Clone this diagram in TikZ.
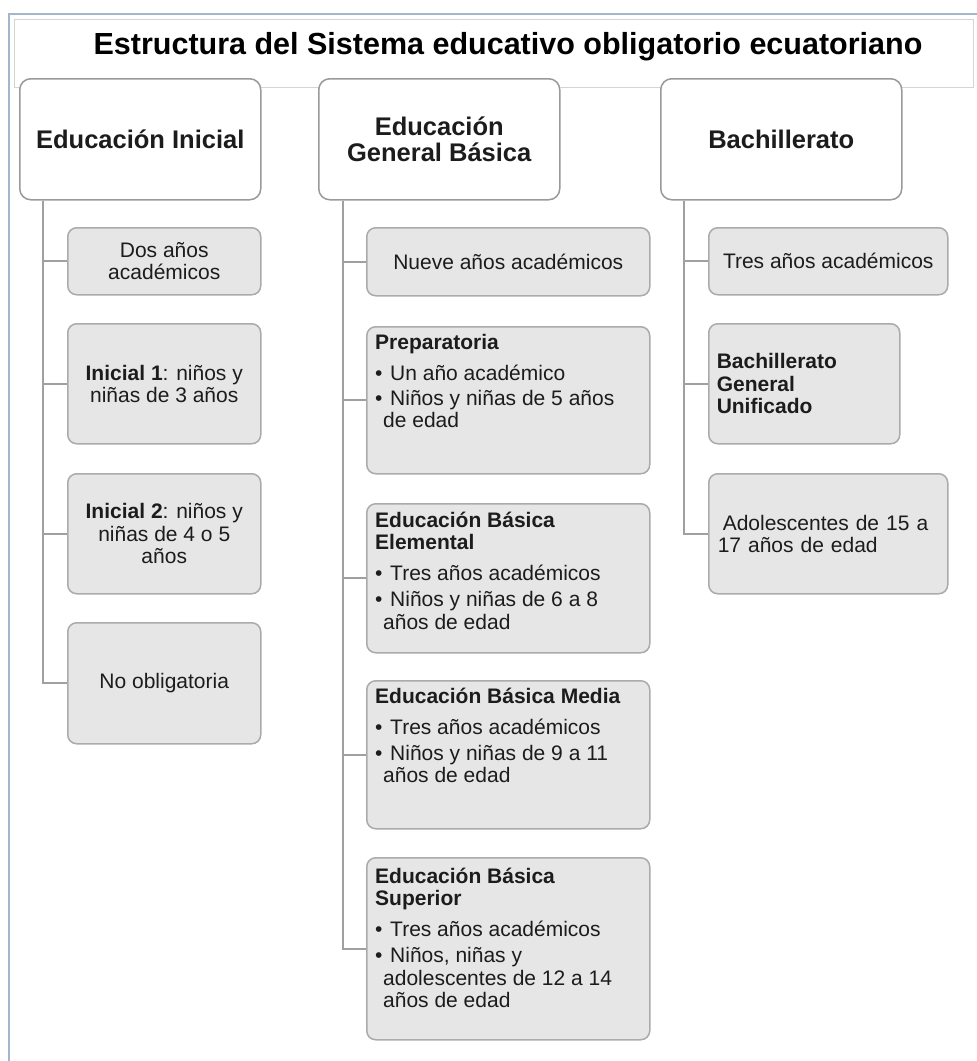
\documentclass[tikz,border=0pt]{standalone}
\usepackage{fontspec}
\setmainfont{Liberation Sans}
\definecolor{frameblue}{HTML}{A2B6CC}
\definecolor{titleline}{HTML}{D4D4D4}
\definecolor{hdrline}{HTML}{9A9A9A}
\definecolor{boxfill}{HTML}{E6E6E6}
\definecolor{boxline}{HTML}{ABABAB}
\definecolor{linkgray}{HTML}{A0A0A0}
\definecolor{ink}{HTML}{1C1C1C}
% bullet marker and hanging continuation for list lines
\newcommand\bul{\makebox[15pt][l]{•}}
\newcommand\cont{\hspace*{8pt}}
\newcommand\toplist[1]{\parbox[t]{272pt}{\raggedright\fontsize{21}{22.5}\selectfont #1}}
\tikzset{
  header/.style={draw=hdrline, line width=1.5pt, fill=white, rounded corners=11pt,
    minimum width=241pt, minimum height=121pt, anchor=north west, inner sep=0pt,
    align=center, font=\bfseries\fontsize{25.5}{26}\selectfont, text=ink},
  item/.style={draw=boxline, line width=1.5pt, fill=boxfill, rounded corners=9pt,
    anchor=north west, inner sep=0pt, align=center,
    font=\fontsize{21}{22.5}\selectfont, text=ink},
  listtext/.style={anchor=base west, inner sep=0pt, text=ink},
  link/.style={draw=linkgray, line width=2pt},
}
\begin{document}
\begin{tikzpicture}[x=1pt,y=-1pt]
\useasboundingbox (0,0) rectangle (977,1061);
\fill[white] (0,0) rectangle (977,1061);

% page frame
\draw[frameblue, line width=1.5pt] (9,1061) -- (9,14) -- (977,14);

% title
\node[draw=titleline, line width=0.8pt, fill=white, anchor=north west,
      minimum width=959pt, minimum height=68pt, inner sep=0pt] (titlebox) at (14,19) {};
\node[anchor=base, inner sep=0pt, text=black,
      font=\bfseries\fontsize{30.5}{32}\selectfont] (title) at (508,54)
      {Estructura del Sistema educativo obligatorio ecuatoriano};

% level headers
\node[header] (ei)  at (19,78)  {Educación Inicial};
\node[header] (egb) at (318,78) {Educación\\General Básica};
\node[header] (bach) at (660,78) {Bachillerato};

% Educación Inicial
\node[item, minimum width=193pt, minimum height=67pt]  (dos) at (67,227) {Dos años\\académicos};
\node[item, minimum width=193pt, minimum height=120pt] (ini1) at (67,323) {\textbf{Inicial 1}: niños y\\niñas de 3 años};
\node[item, minimum width=193pt, minimum height=120pt] (ini2) at (67,473) {\textbf{Inicial 2}: niños y\\niñas de 4 o 5\\años};
\node[item, minimum width=193pt, minimum height=121pt] (noob) at (67,622) {No obligatoria};

% Educación General Básica
\node[item, minimum width=283pt, minimum height=68pt]  (nueve) at (366,227) {Nueve años académicos};
\node[item, minimum width=283pt, minimum height=147pt] (prep)  at (366,326) {};
\node[item, minimum width=283pt, minimum height=149pt] (elem)  at (366,503) {};
\node[item, minimum width=283pt, minimum height=148pt] (media) at (366,680) {};
\node[item, minimum width=283pt, minimum height=182pt] (sup)   at (366,857) {};

\node[listtext] (prep-t) at (375,349) {\toplist{\textbf{Preparatoria}\\[8.5pt]
  \bul Un año académico\\[2.5pt]
  \bul Niños y niñas de 5 años\\
  \cont de edad}};
\node[listtext] (elem-t) at (375,527) {\toplist{\textbf{Educación Básica}\\
  \textbf{Elemental}\\[8.5pt]
  \bul Tres años académicos\\[3.5pt]
  \bul Niños y niñas de 6 a 8\\
  \cont años de edad}};
\node[listtext] (media-t) at (375,703) {\toplist{\textbf{Educación Básica Media}\\[8.5pt]
  \bul Tres años académicos\\[3.5pt]
  \bul Niños y niñas de 9 a 11\\
  \cont años de edad}};
\node[listtext] (sup-t) at (375,883) {\toplist{\textbf{Educación Básica}\\
  \textbf{Superior}\\[8.5pt]
  \bul Tres años académicos\\[3.5pt]
  \bul Niños, niñas y\\
  \cont adolescentes de 12 a 14\\
  \cont años de edad}};

% Bachillerato
\node[item, minimum width=239pt, minimum height=67pt]  (tres) at (708,227) {Tres años académicos};
\node[item, minimum width=191pt, minimum height=120pt, text width=175pt, align=left]
  (bgu) at (708,323) {\textbf{Bachillerato}\\\textbf{General}\\\textbf{Unificado}};
\node[item, minimum width=239pt, minimum height=120pt, text width=221pt, align=left]
  (adol) at (708,473) {\hspace*{5pt}Adolescentes de 15 a\\17 años de edad};

% connectors
\coordinate (ei-stem)   at ([xshift=24pt]ei.south west);
\coordinate (egb-stem)  at ([xshift=25pt]egb.south west);
\coordinate (bach-stem) at ([xshift=24pt]bach.south west);

\foreach \c in {dos,ini1,ini2,noob}
  \draw[link] (ei-stem) |- (\c.west);
\foreach \c in {nueve,prep,elem,media,sup}
  \draw[link] (egb-stem) |- (\c.west);
\foreach \c in {tres,bgu,adol}
  \draw[link] (bach-stem) |- (\c.west);
\end{tikzpicture}
\end{document}
